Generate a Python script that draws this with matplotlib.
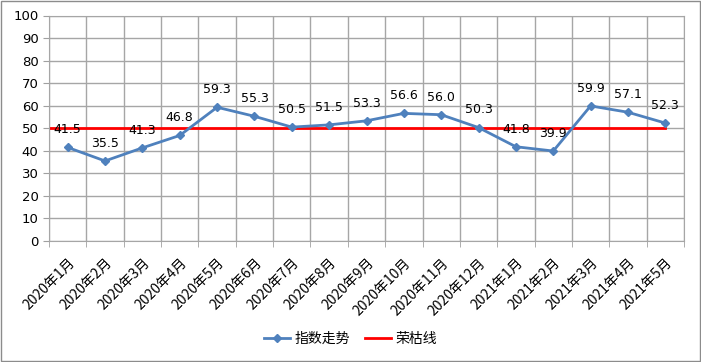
import matplotlib.pyplot as plt
from matplotlib.patches import Rectangle

plt.rcParams['font.family'] = ['Noto Sans CJK SC', 'DejaVu Sans']

months = ["2020年1月", "2020年2月", "2020年3月", "2020年4月", "2020年5月",
          "2020年6月", "2020年7月", "2020年8月", "2020年9月", "2020年10月",
          "2020年11月", "2020年12月", "2021年1月", "2021年2月", "2021年3月",
          "2021年4月", "2021年5月"]
index_values = [41.5, 35.5, 41.3, 46.8, 59.3, 55.3, 50.5, 51.5, 53.3, 56.6,
                56.0, 50.3, 41.8, 39.9, 59.9, 57.1, 52.3]
boom_line = 50

fig = plt.figure(figsize=(7.01, 3.62), dpi=100)
ax = fig.add_axes([49 / 701, 1 - 241 / 362, (684 - 49) / 701, (241 - 15.5) / 362])

x = list(range(len(months)))
ax.plot(x, index_values, color="#4F81BD", linewidth=2, marker="D",
        markersize=4.5, label="指数走势", zorder=3)
ax.plot([-0.5, len(months) - 1], [boom_line, boom_line], color="#FF0000",
        linewidth=2, label="荣枯线", zorder=2)

for xi, v in zip(x, index_values):
    ax.annotate(f"{v:.1f}", (xi, v), xytext=(0, 8), textcoords="offset points",
                ha="center", va="bottom", fontsize=9, family="DejaVu Sans",
                color="#000000", zorder=4)

ax.set_xlim(-0.5, len(months) - 0.5)
ax.set_ylim(0, 100)
ax.set_yticks(range(0, 101, 10))
ax.set_xticks(x)
ax.set_xticklabels(months, rotation=45, ha="right", rotation_mode="anchor",
                   fontsize=10)
ax.set_xticks([i - 0.5 for i in range(len(months) + 1)], minor=True)
ax.tick_params(axis="x", which="major", length=0, pad=10.5)
ax.tick_params(axis="x", which="minor", length=4, color="#A0A0A0")
ax.tick_params(axis="y", length=4, color="#A0A0A0", labelsize=9.5)
for lab in ax.get_yticklabels():
    lab.set_family("DejaVu Sans")

ax.grid(True, which="minor", axis="x", color="#A6A6A6", linewidth=1)
ax.grid(True, which="major", axis="y", color="#A6A6A6", linewidth=1)
ax.set_axisbelow(True)
for s in ax.spines.values():
    s.set_color("#A6A6A6")

ax.legend(loc="center", bbox_to_anchor=(0.5, 1 - 339 / 362), bbox_transform=fig.transFigure,
          ncol=2, frameon=False, fontsize=10, handlelength=1.9, handletextpad=0.3,
          columnspacing=1.1)

fig.patches.append(Rectangle((0.002, 0.003), 0.996, 0.994, transform=fig.transFigure,
                             fill=False, edgecolor="#8C8C8C", linewidth=1))

fig.savefig("out.png", dpi=100)
